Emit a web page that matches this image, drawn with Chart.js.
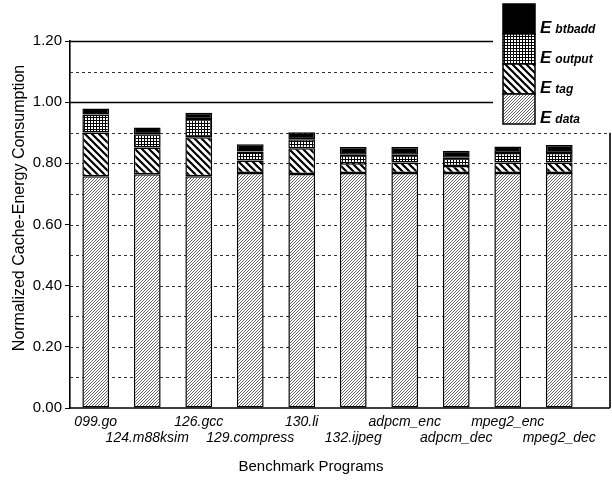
<!DOCTYPE html>
<html>
<head>
<meta charset="utf-8">
<script src="https://cdn.jsdelivr.net/npm/chart.js@4"></script>
<style>
html, body { margin: 0; padding: 0; background: #fff; }
</style>
</head>
<body>
<canvas id="chart" width="612" height="481"></canvas>
<script>
var programs = ["099.go", "124.m88ksim", "126.gcc", "129.compress", "130.li",
                "132.ijpeg", "adpcm_enc", "adpcm_dec", "mpeg2_enc", "mpeg2_dec"];
var eData   = [0.758, 0.764, 0.758, 0.768, 0.765, 0.768, 0.768, 0.768, 0.768, 0.768];
var eTag    = [0.143, 0.088, 0.127, 0.041, 0.084, 0.032, 0.035, 0.023, 0.035, 0.035];
var eOutput = [0.059, 0.043, 0.060, 0.030, 0.030, 0.028, 0.025, 0.027, 0.031, 0.031];
var eBtbadd = [0.019, 0.022, 0.020, 0.023, 0.023, 0.025, 0.025, 0.023, 0.021, 0.026];
var gridLevels = [0.1, 0.2, 0.3, 0.4, 0.5, 0.6, 0.7, 0.8, 0.9, 1.0, 1.1, 1.2];
var solidLevels = [1.0, 1.2];
var legendNames = ["btbadd", "output", "tag", "data"];

var FONT = "'Liberation Sans', Arial, sans-serif";
var ctx = document.getElementById("chart").getContext("2d");

// the plot frame runs a bit past the last category, like the original
var plotRight = 610;
var legendLeft = 493;
var legendBottom = 131;

function makePattern(kind) {
    var t = document.createElement("canvas");
    var g = t.getContext("2d");
    var n;
    if (kind == "data") {
        n = 3;
        t.width = n; t.height = n;
        g.fillStyle = "#fff"; g.fillRect(0, 0, n, n);
        g.fillStyle = "#666";
        // one-pixel "/" diagonal
        g.fillRect(2, 0, 1, 1);
        g.fillRect(1, 1, 1, 1);
        g.fillRect(0, 2, 1, 1);
    } else if (kind == "tag") {
        n = 7;
        t.width = n; t.height = n;
        g.fillStyle = "#fff"; g.fillRect(0, 0, n, n);
        g.strokeStyle = "#000"; g.lineWidth = 2.2;
        g.beginPath();
        g.moveTo(-1, -1); g.lineTo(n + 1, n + 1);
        g.moveTo(n - 2, -2); g.lineTo(n + 2, 2);
        g.moveTo(-2, n - 2); g.lineTo(2, n + 2);
        g.stroke();
    } else if (kind == "output") {
        n = 3;
        t.width = n; t.height = n;
        g.fillStyle = "#fff"; g.fillRect(0, 0, n, n);
        g.fillStyle = "#000";
        g.fillRect(0, 0, n, 1);
        g.fillRect(0, 0, 1, n);
    } else {
        return "#000";
    }
    return ctx.createPattern(t, "repeat");
}

var fills = {
    data: makePattern("data"),
    tag: makePattern("tag"),
    output: makePattern("output"),
    btbadd: makePattern("btbadd")
};

function seg(name, values) {
    return {
        label: "E " + name,
        data: values,
        backgroundColor: fills[name],
        borderColor: "#000",
        borderWidth: 1.5,
        borderSkipped: false,
        barPercentage: 0.52,
        categoryPercentage: 1.0
    };
}

var decor = {
    id: "decor",
    beforeDatasetsDraw: function (chart) {
        var c = chart.ctx, a = chart.chartArea, y = chart.scales.y;
        c.save();
        gridLevels.forEach(function (v) {
            var solid = solidLevels.indexOf(v) >= 0;
            var py = Math.round(y.getPixelForValue(v)) + 0.5;
            var right = py < legendBottom ? legendLeft : plotRight;
            c.beginPath();
            c.setLineDash(solid ? [] : [3, 3]);
            c.lineWidth = solid ? 1.6 : 1;
            c.strokeStyle = solid ? "#000" : "#333";
            c.moveTo(a.left, py);
            c.lineTo(right, py);
            c.stroke();
        });
        c.restore();
    },
    afterDatasetsDraw: function (chart) {
        var c = chart.ctx, a = chart.chartArea, y = chart.scales.y;
        c.save();
        c.strokeStyle = "#000";
        c.lineWidth = 1.6;
        c.setLineDash([]);
        c.beginPath();
        c.moveTo(a.left, a.bottom);
        c.lineTo(plotRight, a.bottom);
        c.moveTo(plotRight, y.getPixelForValue(0.9));
        c.lineTo(plotRight, a.bottom);
        c.stroke();
        c.restore();
    },
    afterDraw: function (chart) {
        var c = chart.ctx;
        c.save();
        c.fillStyle = "#000";

        // axis titles
        c.font = "15px " + FONT;
        c.textAlign = "center";
        c.textBaseline = "middle";
        c.fillText("Benchmark Programs", 311, 467);
        c.translate(20, 208);
        c.rotate(-Math.PI / 2);
        c.font = "16px " + FONT;
        c.fillText("Normalized Cache-Energy Consumption", 0, 0);
        c.restore();

        // stacked legend box, top to bottom
        c.save();
        var bx = 503, bw = 32, bh = 30, by = 4;
        legendNames.forEach(function (name, i) {
            var top = by + i * bh;
            c.fillStyle = fills[name];
            c.fillRect(bx, top, bw, bh);
            c.strokeStyle = "#000";
            c.lineWidth = 1.5;
            c.strokeRect(bx, top, bw, bh);
            c.fillStyle = "#000";
            c.textAlign = "left";
            c.textBaseline = "alphabetic";
            c.font = "italic bold 17px " + FONT;
            c.fillText("E", 540, top + bh - 1);
            var w = c.measureText("E").width;
            c.font = "italic bold 12px " + FONT;
            c.fillText(name, 540 + w + 4, top + bh - 1);
        });
        c.restore();
    }
};

new Chart(ctx, {
    type: "bar",
    data: {
        labels: programs,
        datasets: [
            seg("data", eData),
            seg("tag", eTag),
            seg("output", eOutput),
            seg("btbadd", eBtbadd)
        ]
    },
    options: {
        responsive: false,
        animation: false,
        devicePixelRatio: 1,
        layout: { padding: { top: 41, right: 27, bottom: 0, left: 0 } },
        plugins: {
            legend: { display: false },
            tooltip: { enabled: false }
        },
        scales: {
            x: {
                stacked: true,
                grid: { display: false },
                border: { display: false },
                afterFit: function (scale) { scale.height = 73; },
                ticks: {
                    autoSkip: false,
                    maxRotation: 0,
                    padding: -2,
                    color: "#000",
                    font: { family: FONT, size: 14, style: "italic", lineHeight: 1.15 },
                    callback: function (v, i) {
                        return i % 2 ? ["", programs[i]] : [programs[i]];
                    }
                }
            },
            y: {
                stacked: true,
                min: 0,
                max: 1.2,
                afterFit: function (scale) { scale.width = 70; },
                border: { display: true, color: "#000", width: 1.6 },
                grid: { drawOnChartArea: false, drawTicks: true, tickLength: 5, color: "#000" },
                ticks: {
                    stepSize: 0.2,
                    padding: 3,
                    color: "#000",
                    font: { family: FONT, size: 15 },
                    callback: function (v) { return v.toFixed(2); }
                }
            }
        }
    },
    plugins: [decor]
});
</script>
</body>
</html>
